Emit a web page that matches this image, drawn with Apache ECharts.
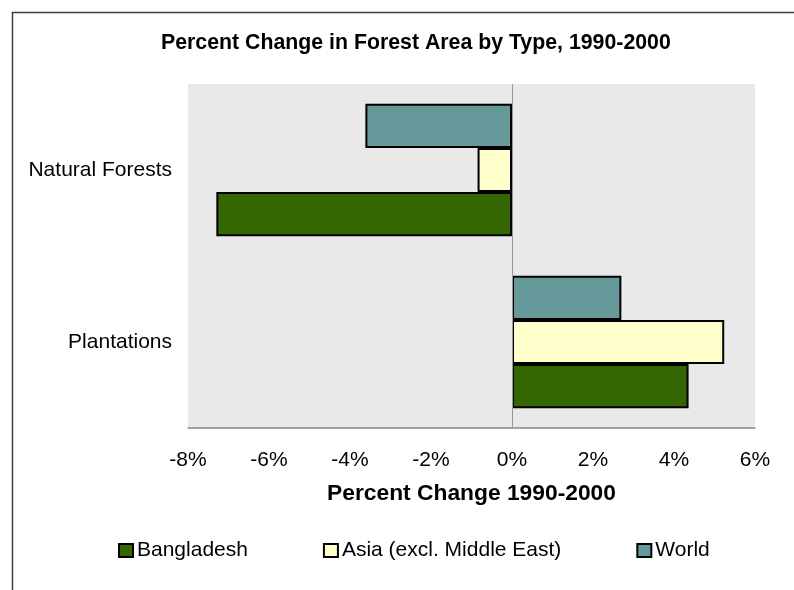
<!DOCTYPE html>
<html>
<head>
<meta charset="utf-8">
<script src="https://cdn.jsdelivr.net/npm/echarts@6/dist/echarts.min.js"></script>
<style>
  html, body { margin: 0; padding: 0; background: #ffffff; }
  #chart { width: 794px; height: 590px; }
</style>
</head>
<body>
<div id="chart"></div>
<script>
const categories = ['Natural Forests', 'Plantations'];
const seriesNames = ['Bangladesh', 'Asia (excl. Middle East)', 'World'];
const bangladesh = [-7.30, 4.36];
const asia = [-0.85, 5.24];
const world = [-3.62, 2.70];
const xMin = -8, xMax = 6, xInterval = 2;

const FONT = '"Liberation Sans", Arial, sans-serif';
const chart = echarts.init(document.getElementById('chart'), null, { renderer: 'canvas' });

const barBorder = { borderColor: '#000000', borderWidth: 2 };

chart.setOption({
  animation: false,
  backgroundColor: '#ffffff',
  textStyle: { fontFamily: FONT, color: '#000000' },
  title: {
    text: 'Percent Change in Forest Area by Type, 1990-2000',
    left: 161,
    top: 33,
    padding: 0,
    textStyle: { fontFamily: FONT, fontSize: 21.3, fontWeight: 'bold', color: '#000000' }
  },
  grid: {
    left: 188, right: 39, top: 84, bottom: 162,
    show: true, backgroundColor: '#e9e9e9', borderWidth: 0,
    containLabel: false
  },
  legend: {
    data: seriesNames,
    left: 118,
    top: 540,
    itemGap: 75,
    itemWidth: 14,
    itemHeight: 13,
    icon: 'rect',
    padding: 0,
    textStyle: { fontFamily: FONT, fontSize: 21, color: '#000000', padding: [0, 0, 0, -1] }
  },
  xAxis: {
    type: 'value',
    min: xMin, max: xMax, interval: xInterval,
    name: 'Percent Change 1990-2000',
    nameLocation: 'middle',
    nameGap: 54,
    nameTextStyle: { fontFamily: FONT, fontSize: 22.8, fontWeight: 'bold', color: '#000000' },
    axisLine: { show: true, onZero: false, lineStyle: { color: '#888888', width: 1.5 } },
    axisTick: { show: false },
    splitLine: { show: false },
    axisLabel: { formatter: '{value}%', fontFamily: FONT, fontSize: 21, color: '#000000', margin: 22 }
  },
  yAxis: {
    type: 'category',
    data: categories,
    inverse: true,
    axisLine: { show: false },
    axisTick: { show: false },
    splitLine: { show: false },
    axisLabel: { fontFamily: FONT, fontSize: 21, color: '#000000', margin: 16 }
  },
  series: [
    {
      name: seriesNames[2], type: 'bar', data: world,
      barGap: '0%', barCategoryGap: '23%',
      itemStyle: Object.assign({ color: '#669999' }, barBorder),
      markLine: {
        silent: true, symbol: ['none', 'none'], label: { show: false },
        lineStyle: { color: '#999999', width: 1, type: 'solid' },
        data: [{ xAxis: 0 }]
      }
    },
    {
      name: seriesNames[1], type: 'bar', data: asia,
      barGap: '0%', barCategoryGap: '23%',
      itemStyle: Object.assign({ color: '#ffffcc' }, barBorder)
    },
    {
      name: seriesNames[0], type: 'bar', data: bangladesh,
      barGap: '0%', barCategoryGap: '23%',
      itemStyle: Object.assign({ color: '#336600' }, barBorder)
    }
  ],
  graphic: [
    {
      type: 'polyline',
      shape: { points: [[12.5, 590], [12.5, 12.5], [794, 12.5]] },
      style: { stroke: '#404040', lineWidth: 1.5, fill: null },
      silent: true
    }
  ]
});
</script>
</body>
</html>
